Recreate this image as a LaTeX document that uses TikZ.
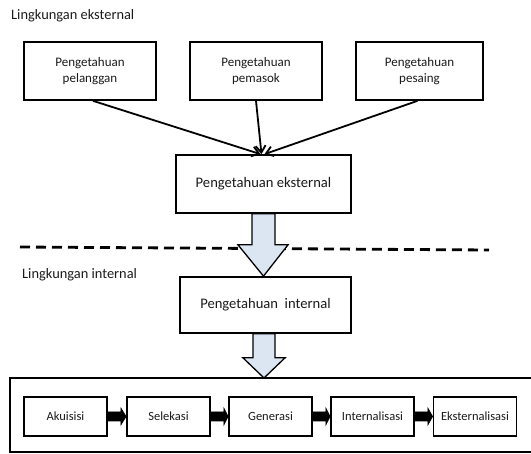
\documentclass[tikz,border=0pt]{standalone}
\usepackage{fontspec}
\setmainfont{Carlito}
\usetikzlibrary{arrows.meta,calc}
\definecolor{arrowblue}{HTML}{DCE6F2}
\definecolor{txt}{HTML}{1A1A1A}
\tikzset{
  topbox/.style={draw=black, line width=1.7pt, minimum width=132pt, minimum height=58pt, align=center, font=\fontsize{13}{16}\selectfont, text=txt, inner sep=0pt},
  midbox/.style={draw=black, line width=1.7pt, minimum width=175pt, minimum height=58pt, align=center, font=\fontsize{14.6}{17}\selectfont, text=txt, inner sep=0pt},
  procbox/.style={draw=black, line width=1.7pt, minimum width=83pt, minimum height=39pt, font=\fontsize{12.5}{14}\selectfont, text=txt, inner sep=0pt},
  envlabel/.style={anchor=west, font=\fontsize{14.4}{16}\selectfont, text=txt, inner sep=0pt},
  thinarrow/.style={line width=1.8pt, -{Straight Barb[length=7pt,width=10pt,line width=1.8pt]}},
  blockarrow/.style={draw=black, line width=1.3pt, fill=arrowblue, line join=miter},
  blackarrow/.style={fill=black, draw=black, line width=0.6pt}
}
\begin{document}
\begin{tikzpicture}[x=1pt,y=-1pt]
\useasboundingbox (0,0) rectangle (531,454);

% labels
\node[envlabel] (lext) at (11,16) {Lingkungan eksternal};
\node[envlabel] (lint) at (22,275) {Lingkungan internal};

% top boxes
\node[topbox] (b1) at (90,71) {Pengetahuan\\pelanggan};
\node[topbox] (b2) at (256,71) {Pengetahuan\\pemasok};
\node[topbox, minimum width=127pt] (b3) at (419.5,71) {Pengetahuan\\pesaing};

% external / internal
\node[midbox] (ext) at (263.5,184) {Pengetahuan eksternal};
\node[midbox, minimum width=171pt, minimum height=56pt] (int) at (265.5,305) {Pengetahuan\ \ internal};

% converging arrows
\draw[thinarrow] ($(b1.south)+(3,0)$) -- ($(ext.north)+(-3,0)$);
\draw[thinarrow] (b2.south) -- ($(ext.north)+(-2,0)$);
\draw[thinarrow] ($(b3.south)+(-2,0)$) -- ($(ext.north)+(1,0)$);

% dashed boundary
\coordinate (dl) at (20,247);
\coordinate (dr) at (489,250);
\draw[line width=2.8pt, dash pattern=on 10pt off 6pt] (dl) -- (dr);

% block arrow ext -> int
\draw[blockarrow]
  ($(ext.south)+(-11.5,0)$) -- ($(ext.south)+(-11.5,31)$) -- ($(ext.south)+(-25.5,31)$)
  -- ($(int.north)+(-2,0)$)
  -- ($(ext.south)+(24.5,31)$) -- ($(ext.south)+(11.5,31)$) -- ($(ext.south)+(11.5,0)$) -- cycle;

% container (open on the right)
\coordinate (ctop) at (264,378);
\draw[line width=1.6pt] (531,378) -- (10,378) -- (10,452) -- (531,452);

% block arrow int -> container
\draw[blockarrow]
  ($(int.south)+(-12.5,0)$) -- ($(int.south)+(-12.5,24)$) -- ($(int.south)+(-22.5,24)$)
  -- (ctop)
  -- ($(int.south)+(19.5,24)$) -- ($(int.south)+(9.5,24)$) -- ($(int.south)+(9.5,0)$) -- cycle;

% process boxes
\node[procbox] (p1) at (65.5,416.5) {Akuisisi};
\node[procbox] (p2) at (168.5,416.5) {Selekasi};
\node[procbox] (p3) at (270.5,416.5) {Generasi};
\node[procbox] (p4) at (372.5,416.5) {Internalisasi};
\node[procbox] (p5) at (475,416.5) {Eksternalisasi};

% black block arrows between process boxes
\foreach \a/\b in {p1/p2,p2/p3,p3/p4,p4/p5}{
  \path[blackarrow]
    ($(\a.east)+(0,-4.5)$) -- ($(\a.east)+(13,-4.5)$) -- ($(\a.east)+(13,-8.5)$)
    -- (\b.west)
    -- ($(\a.east)+(13,8.5)$) -- ($(\a.east)+(13,4.5)$) -- ($(\a.east)+(0,4.5)$) -- cycle;
}
\end{tikzpicture}
\end{document}
